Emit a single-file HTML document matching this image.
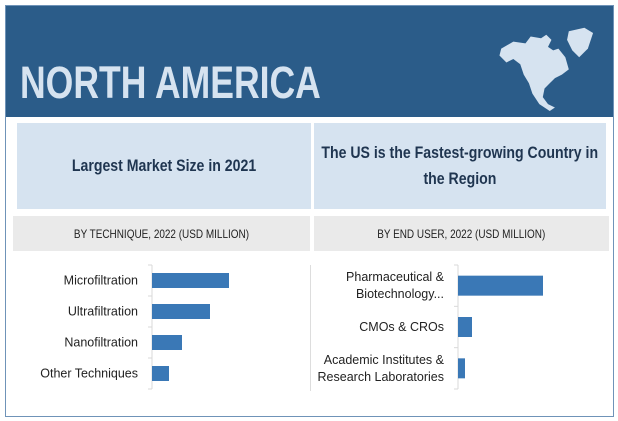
<!DOCTYPE html>
<html><head><meta charset="utf-8"><style>
body{margin:0;width:618px;height:421px;background:#fff;font-family:"Liberation Sans",sans-serif;overflow:hidden}
.abs{position:absolute}
.sq{display:inline-block;white-space:nowrap;transform:scaleX(0.83)}
</style></head><body>
<div class="abs" style="left:5px;top:5px;width:607px;height:410px;border:1px solid #6f93b8"></div>
<div class="abs" style="left:6px;top:6px;width:607px;height:111px;background:#2b5c89"></div>
<div class="abs" style="left:20px;top:58px;font-size:45px;font-weight:bold;color:#d6e3f0;transform:scaleX(0.79);transform-origin:left;line-height:50px;white-space:nowrap">NORTH AMERICA</div>
<svg class="abs" style="left:496px;top:24px" width="104" height="96" viewBox="0 0 120 110">
<path d="M6,28 L20,20 L34,22 L40,14 L52,16 L58,12 L64,18 L60,26 L66,30 L72,28 L80,38 L84,52 L76,58 L68,62 L62,68 L56,74 L54,84 L60,92 L68,96 L62,100 L50,92 L42,80 L38,68 L32,58 L28,46 L20,40 L12,44 L4,36 Z" fill="#d6e3f0"/>
<path d="M84,8 L102,4 L112,10 L106,28 L96,38 L88,30 L82,18 Z" fill="#d6e3f0"/>
</svg>
<div class="abs" style="left:17px;top:123px;width:294px;height:86px;background:#d6e3f0;display:flex;align-items:center;justify-content:center;font-size:17px;font-weight:bold;color:#1f3550"><span class="sq">Largest Market Size in 2021</span></div>
<div class="abs" style="left:314px;top:123px;width:292px;height:86px;background:#d6e3f0;display:flex;flex-direction:column;align-items:center;justify-content:center;text-align:center;font-size:17px;font-weight:bold;color:#1f3550;line-height:26px"><span class="sq">The US is the Fastest-growing Country in</span><span class="sq">the Region</span></div>
<div class="abs" style="left:13px;top:216px;width:297px;height:35px;background:#eaeaea;display:flex;align-items:center;justify-content:center;font-size:12px;color:#222"><span class="sq">BY TECHNIQUE, 2022 (USD MILLION)</span></div>
<div class="abs" style="left:314px;top:216px;width:295px;height:35px;background:#eaeaea;display:flex;align-items:center;justify-content:center;font-size:12px;color:#222"><span class="sq">BY END USER, 2022 (USD MILLION)</span></div>
<div class="abs" style="left:310px;top:265px;width:1px;height:126px;background:#ddd"></div>
<svg id="c" class="abs" style="left:0;top:0" width="618" height="421"></svg>
<script>
const techCats=["Microfiltration","Ultrafiltration","Nanofiltration","Other Techniques"];
const techVals=[77,58,30,17];
const userCats=[["Pharmaceutical &","Biotechnology..."],["CMOs & CROs"],["Academic Institutes &","Research Laboratories"]];
const userVals=[85,14,7];
const NS="http://www.w3.org/2000/svg",svg=document.getElementById('c');
function mk(t,a){const e=document.createElementNS(NS,t);for(const k in a)e.setAttribute(k,a[k]);svg.appendChild(e);return e;}
function chart(cats,vals,x0,top,bottom,bh,name){
 const n=cats.length,band=(bottom-top)/n;
 const ax=mk('line',{x1:x0,x2:x0,y1:top,y2:bottom,stroke:'#d9d9d9'});
 
 
 for(let i=0;i<=n;i++){const t=mk('line',{x1:x0-4,x2:x0,y1:top+i*band,y2:top+i*band,stroke:'#d9d9d9'});}
 vals.forEach((v,i)=>{
  const cy=top+band*(i+.5);
  const r=mk('rect',{x:x0,y:cy-bh/2,width:v*1,height:bh,fill:'#3a78b6'});
  
  
  const lines=Array.isArray(cats[i])?cats[i]:[cats[i]];
  lines.forEach((l,j)=>{
   const t=mk('text',{x:x0-14,y:cy+4+(j-(lines.length-1)/2)*17,'text-anchor':'end','font-size':'12.5','fill':'#222','font-family':'"Liberation Sans",sans-serif'});
   t.textContent=l;
   
   
  });
 });
}
chart(techCats,techVals,152,265,389,15,'technique');
chart(userCats,userVals,458,265,389,20,'end-user');
</script>
</body></html>
